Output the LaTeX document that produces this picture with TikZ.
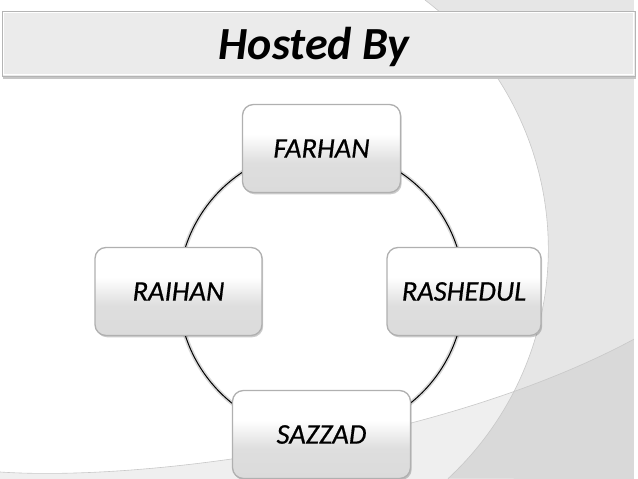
\documentclass[tikz,border=0pt]{standalone}
\usepackage{fontspec}
\setmainfont{Carlito}
\usetikzlibrary{shadows,backgrounds}
\definecolor{bgA}{HTML}{E6E6E6}
\definecolor{bgB}{HTML}{EFEFEF}
\definecolor{bgC}{HTML}{D9D9D9}
\definecolor{bgLine}{HTML}{C8C8C8}
\definecolor{barFill}{HTML}{EBEBEB}
\definecolor{barLine}{HTML}{B4B4B4}
\definecolor{boxLine}{HTML}{B0B0B0}
\definecolor{boxGray}{HTML}{D8D8D8}
\pgfdeclarelayer{bglayer}
\pgfdeclarelayer{connlayer}
\pgfsetlayers{bglayer,connlayer,main}
\pgfdeclareverticalshading{boxshade}{100bp}{color(0bp)=(boxGray!75!white); color(8bp)=(boxGray); color(42bp)=(boxGray!85!white); color(58bp)=(white); color(100bp)=(white)}
\tikzset{
  person/.style={draw=boxLine, line width=1.3pt, rounded corners=11pt, shading=boxshade,
    minimum height=88pt, inner sep=0pt,
    font=\fontsize{28.5}{31}\selectfont\itshape\addfontfeature{FakeBold=0.6},
    drop shadow={shadow xshift=1.2pt, shadow yshift=-1.8pt, fill=black, opacity=0.2}},
  link/.style={draw=black, line width=1pt, preaction={draw=gray!30, line width=4.2pt}},
  bgedge/.style={draw=bgLine, line width=0.6pt}
}
\begin{document}
\begin{tikzpicture}[x=1pt,y=1pt]
\useasboundingbox (0,0) rectangle (638,479);
% background
\begin{pgfonlayer}{bglayer}
  \fill[white] (0,0) rectangle (638,479);
  \fill[bgA] (425,479) arc[start angle=52.7, end angle=-47.2, radius=313] -- (638,0) -- (638,479) -- cycle;
  \fill[bgB] (0,7) .. controls (150,-3) and (450,39) .. (638,142) -- (638,0) -- (0,0) -- cycle;
  \begin{scope}
    \clip (425,479) arc[start angle=52.7, end angle=-47.2, radius=313] -- (638,0) -- (638,479) -- cycle;
    \fill[bgC] (0,7) .. controls (150,-3) and (450,39) .. (638,142) -- (638,0) -- (0,0) -- cycle;
  \end{scope}
  \draw[bgedge] (425,479) arc[start angle=52.7, end angle=-47.2, radius=313];
  \draw[bgedge] (0,7) .. controls (150,-3) and (450,39) .. (638,142);
  \fill[white] (634,0) rectangle (638,479);
  % title bar
  \fill[gray!45] (3,399.5) rectangle (636,403);
  \fill[barFill] (2,403) rectangle (635,468);
  \draw[barLine, line width=0.8pt] (2,403) rectangle (635,468);
  \draw[white, line width=0.8pt] (3.5,404.5) rectangle (633.5,466.5);
\end{pgfonlayer}
\node[anchor=base, font=\fontsize{46}{50}\selectfont\bfseries\itshape] (title) at (314,419) {Hosted By};
% people
\node[person, minimum width=158pt] (farhan) at (321.5,330.5) {FARHAN};
\node[person, minimum width=167pt] (raihan) at (178.5,187.5) {RAIHAN};
\node[person, minimum width=154pt] (rashedul) at (464,187.5) {RASHEDUL};
\node[person, minimum width=178pt] (sazzad) at (321.5,44.5) {SAZZAD};
% ring connectors
\begin{pgfonlayer}{connlayer}
  \path[link] (raihan.center) to[bend left=45] (farhan.center);
  \path[link] (farhan.center) to[bend left=45] (rashedul.center);
  \path[link] (rashedul.center) to[bend left=45] (sazzad.center);
  \path[link] (sazzad.center) to[bend left=45] (raihan.center);
\end{pgfonlayer}
\end{tikzpicture}
\end{document}
